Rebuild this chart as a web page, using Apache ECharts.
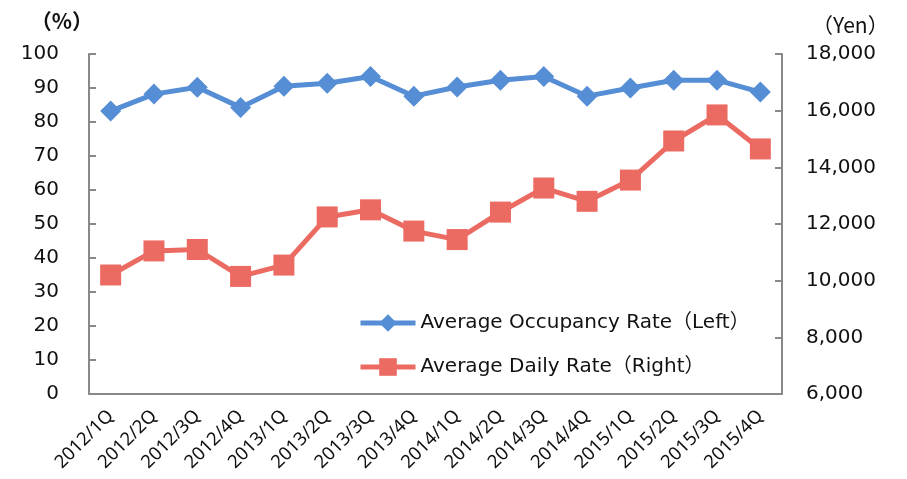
<!DOCTYPE html>
<html>
<head>
<meta charset="utf-8">
<script src="https://cdn.jsdelivr.net/npm/echarts@6/dist/echarts.min.js"></script>
<style>
html,body{margin:0;padding:0;background:#fff;}
#main{width:907px;height:479px;}
</style>
</head>
<body>
<div id="main"></div>
<script>
var quarters = ['2012/1Q','2012/2Q','2012/3Q','2012/4Q','2013/1Q','2013/2Q','2013/3Q','2013/4Q',
	'2014/1Q','2014/2Q','2014/3Q','2014/4Q','2015/1Q','2015/2Q','2015/3Q','2015/4Q'];
var occupancy = [83.2, 88.2, 90.2, 84.3, 90.5, 91.4, 93.4, 87.6, 90.3, 92.3, 93.4, 87.6, 90.0, 92.3, 92.3, 88.8];
var dailyRate = [10200, 11050, 11100, 10150, 10550, 12250, 12500, 11750, 11450, 12420, 13270, 12800, 13550, 14930, 15850, 14650];
var leftTicks = {min: 0, max: 100, step: 10};
var rightTicks = {min: 6000, max: 18000, step: 2000};

var font = '"DejaVu Sans", "Noto Sans CJK JP", sans-serif';
var xFont = '"Noto Sans", sans-serif';
var axisGray = '#898989';
var myChart = echarts.init(document.getElementById('main'));
var option = {
	animation: false,
	textStyle: {fontFamily: font},
	grid: {left: 89, right: 125, top: 54, bottom: 85},
	legend: {
		orient: 'vertical',
		left: 353,
		top: 308,
		itemWidth: 55,
		itemHeight: 22,
		itemGap: 24,
		lineStyle: {width: 5},
		textStyle: {fontSize: 20, color: '#111', fontFamily: font},
		data: ['Average Occupancy Rate（Left）', 'Average Daily Rate（Right）']
	},
	xAxis: {
		type: 'category',
		boundaryGap: true,
		data: quarters,
		axisLine: {lineStyle: {color: axisGray, width: 2}},
		axisTick: {inside: true, length: 7, lineStyle: {color: axisGray, width: 2}},
		axisLabel: {rotate: 45, fontSize: 18.5, color: '#111', margin: 19, interval: 0, fontFamily: xFont}
	},
	yAxis: [{
		type: 'value',
		min: leftTicks.min, max: leftTicks.max, interval: leftTicks.step,
		name: '（%）',
		nameLocation: 'end',
		nameGap: 22,
		nameTextStyle: {fontSize: 21, color: '#111', align: 'right', padding: [0, -4, 0, 0], fontFamily: '"Noto Sans CJK JP", sans-serif', fontWeight: 'bold'},
		splitLine: {show: false},
		axisLine: {show: true, lineStyle: {color: axisGray, width: 2}},
		axisTick: {show: true, inside: true, length: 7, lineStyle: {color: axisGray, width: 2}},
		axisLabel: {fontSize: 20, color: '#111', margin: 30}
	}, {
		type: 'value',
		min: rightTicks.min, max: rightTicks.max, interval: rightTicks.step,
		name: '（Yen）',
		nameLocation: 'end',
		nameGap: 18,
		nameTextStyle: {fontSize: 21, color: '#111', align: 'left', padding: [0, 0, 0, 30], fontFamily: '"Noto Sans CJK JP", sans-serif'},
		splitLine: {show: false},
		axisLine: {show: true, lineStyle: {color: axisGray, width: 2}},
		axisTick: {show: true, inside: true, length: 7, lineStyle: {color: axisGray, width: 2}},
		axisLabel: {fontSize: 20, color: '#111', margin: 24,
			formatter: function(v){ return v.toLocaleString('en-US'); }}
	}],
	series: [{
		name: 'Average Occupancy Rate（Left）',
		type: 'line',
		yAxisIndex: 0,
		data: occupancy,
		symbol: 'diamond',
		symbolSize: 21,
		lineStyle: {color: '#558ed5', width: 5},
		itemStyle: {color: '#558ed5'}
	}, {
		name: 'Average Daily Rate（Right）',
		type: 'line',
		yAxisIndex: 1,
		data: dailyRate,
		symbol: 'rect',
		symbolSize: 21,
		lineStyle: {color: '#eb6b62', width: 5},
		itemStyle: {color: '#eb6b62'}
	}]
};
myChart.setOption(option);
</script>
</body>
</html>
